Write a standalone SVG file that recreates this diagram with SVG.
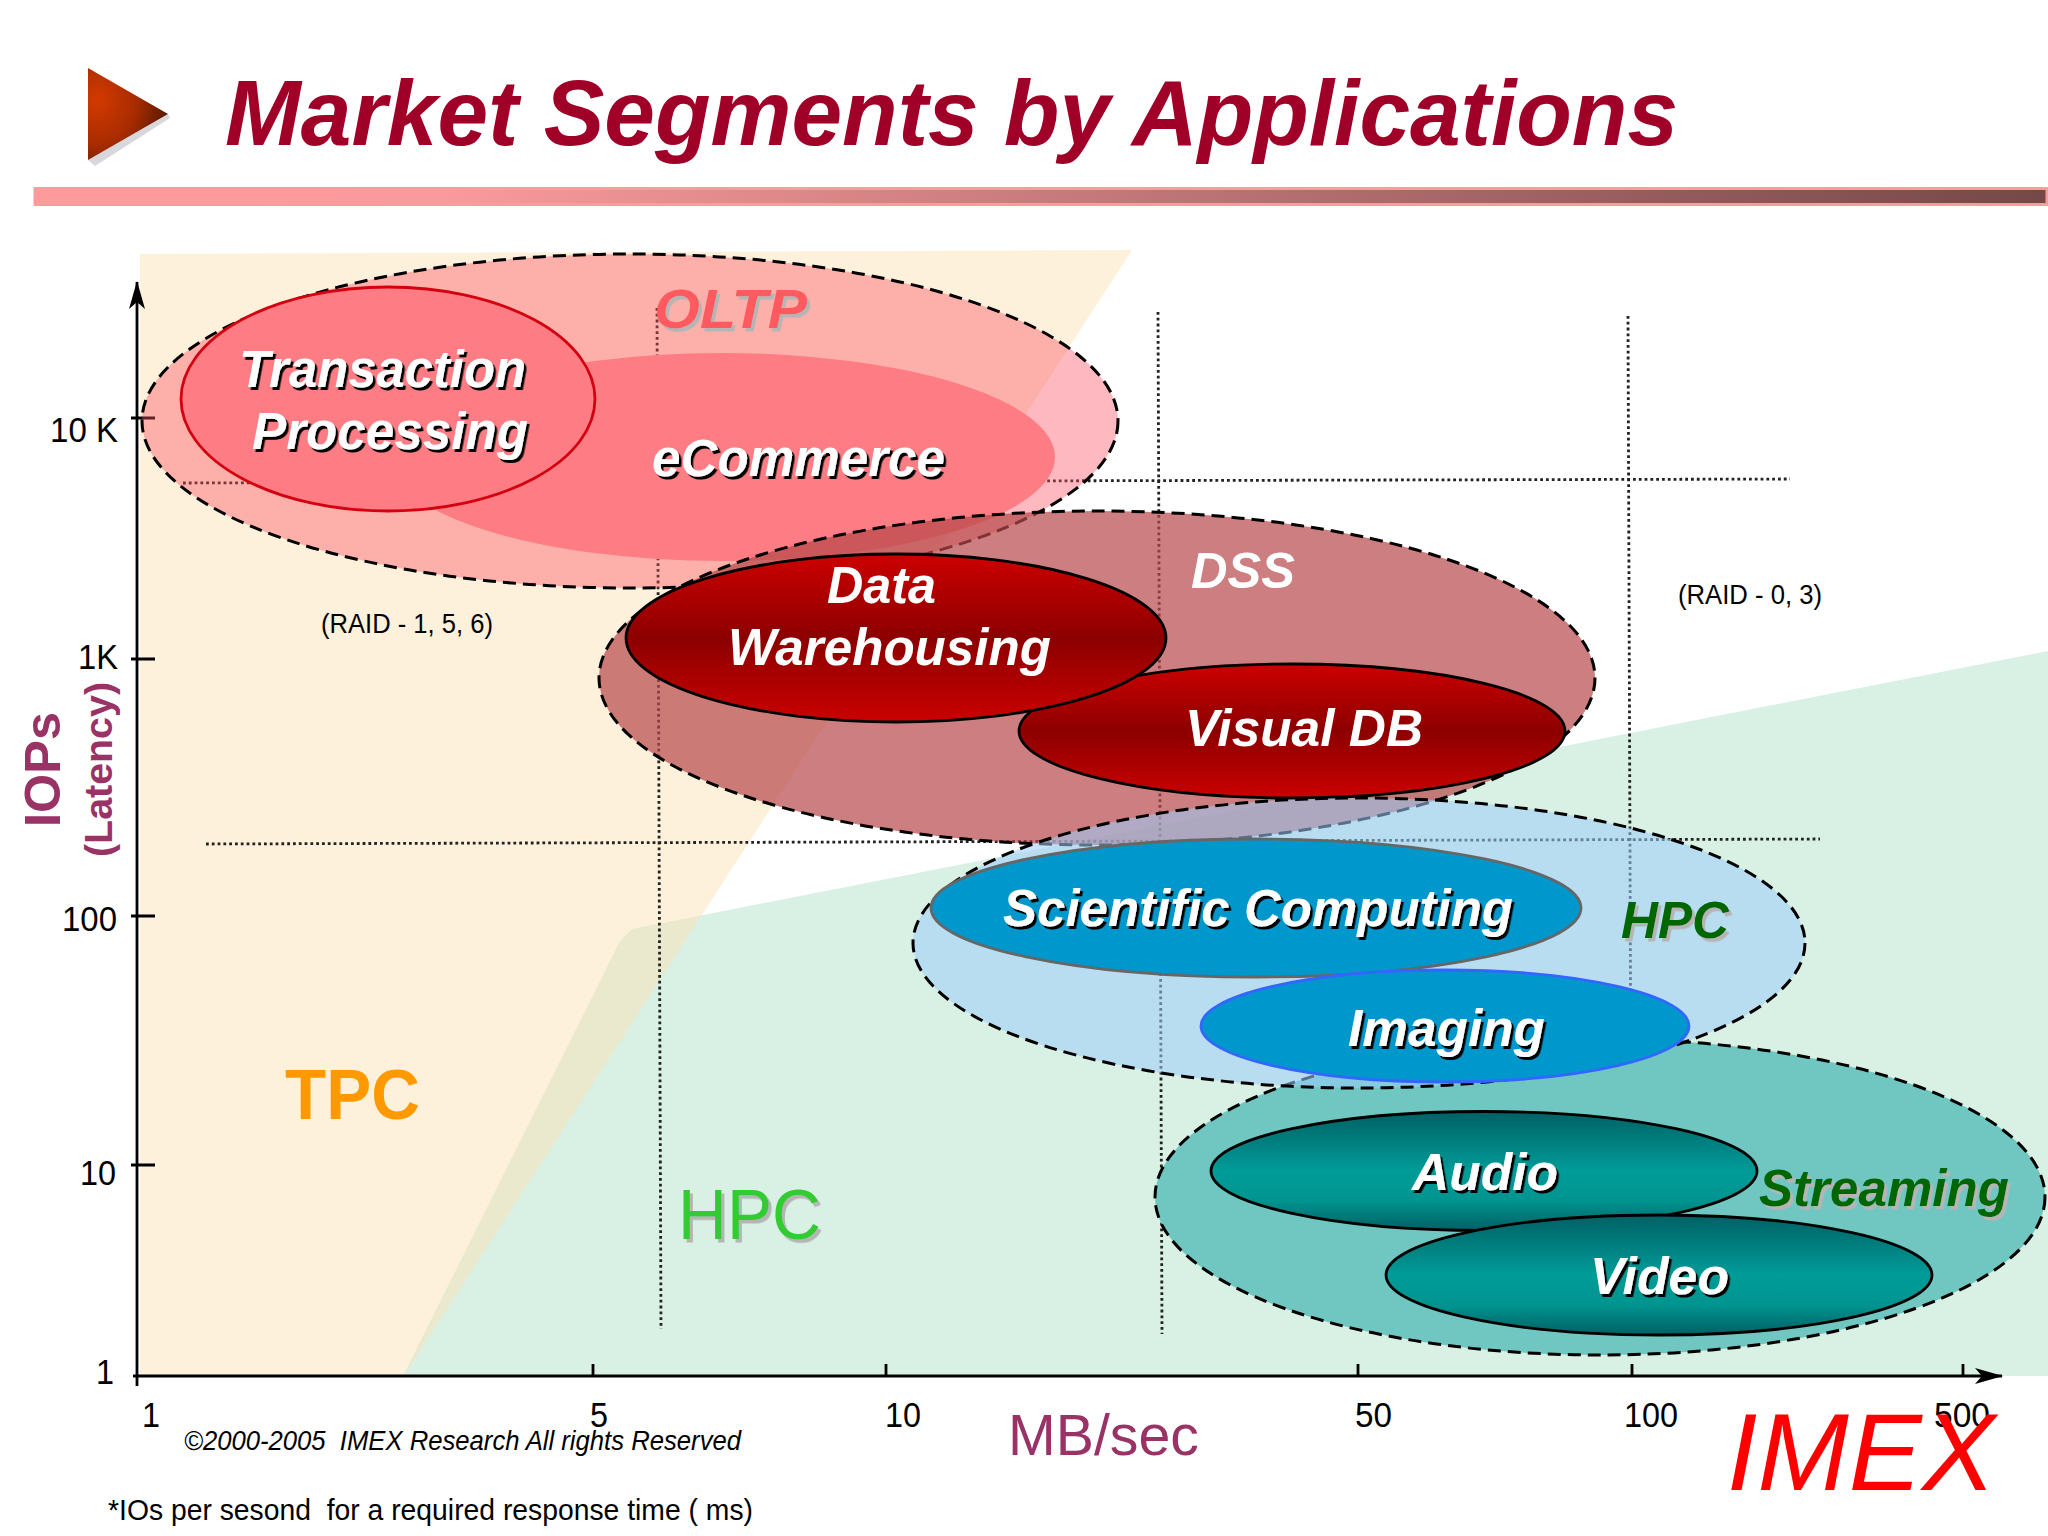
<svg xmlns="http://www.w3.org/2000/svg" width="2048" height="1536" viewBox="0 0 2048 1536">
<style>
text{font-family:"Liberation Sans",Arial,sans-serif;white-space:pre}
.lab{font-weight:bold;font-style:italic;fill:#fff}
.dk{filter:url(#sd)}
.lt{filter:url(#sl)}
.tick{font-size:35px;fill:#000}
.sm{font-size:27px;fill:#000}
.dash{stroke:#000;stroke-width:3;stroke-dasharray:13 7}
.dot{stroke:#222;stroke-width:2.8;stroke-dasharray:2.8 3;fill:none}
.ax{stroke:#000;stroke-width:2.8;fill:none}
.blk{stroke:#000;stroke-width:2.8}
</style>
<defs>
<filter id="sd" x="-10%" y="-20%" width="120%" height="140%"><feDropShadow dx="2.5" dy="3" stdDeviation="0.4" flood-color="#000"/></filter>
<filter id="sl" x="-10%" y="-20%" width="120%" height="140%"><feDropShadow dx="3" dy="3.5" stdDeviation="0.5" flood-color="#b5b5b5"/></filter>
<linearGradient id="red" x1="0" y1="0" x2="0" y2="1"><stop offset="0" stop-color="#cc0000"/><stop offset=".5" stop-color="#8c0000"/><stop offset="1" stop-color="#cc0000"/></linearGradient>
<linearGradient id="teal" x1="0" y1="0" x2="0" y2="1"><stop offset="0" stop-color="#006064"/><stop offset=".5" stop-color="#009c98"/><stop offset=".75" stop-color="#009490"/><stop offset="1" stop-color="#006064"/></linearGradient>
<linearGradient id="bar" x1="0" y1="0" x2="1" y2="0"><stop offset="0" stop-color="#fd9a9c"/><stop offset=".2" stop-color="#fb9a9c"/><stop offset="1" stop-color="#754848"/></linearGradient>
<radialGradient id="tri" cx=".12" cy=".35" r=".95"><stop offset="0" stop-color="#d23a00"/><stop offset=".5" stop-color="#a82c00"/><stop offset="1" stop-color="#4e1500"/></radialGradient>
<marker id="arr" viewBox="0 0 28 16" refX="27" refY="8" markerWidth="28" markerHeight="16" markerUnits="userSpaceOnUse" orient="auto"><path d="M0 0L28 8L0 16L7 8Z" fill="#000"/></marker>
</defs>
<rect width="2048" height="1536" fill="#fff"/>
<g id="header">
<polygon points="88,160 95,166 170,118 168,114" fill="#d8d8dc"/>
<polygon points="88,68 168,114 88,160" fill="url(#tri)"/>
<text x="225" y="145" font-size="92" font-weight="bold" font-style="italic" fill="#a00028" textLength="1453" lengthAdjust="spacingAndGlyphs">Market Segments by Applications</text>
<rect x="35" y="188.500" width="2012" height="16" fill="url(#bar)" stroke="#fd9a9c" stroke-width="3"/>
</g>
<g id="regions">
<polygon id="hpc-region" points="632,929 2048,651 2048,1376 403,1376 620,941" fill="#d9f0e4"/>
<polygon id="tpc-region" points="140,254 1132,250 403,1377 140,1377" fill="#fde1b3" fill-opacity=".47"/>
</g>
<g id="connectors">
<path class="dot" d="M657 308L661 1329"/>
<path class="dot" d="M1158 312L1162 1334"/>
<path class="dot" d="M1628 316L1631 1121"/>
<path class="dot" d="M183 483L1790 479"/>
<path class="dot" d="M206 844L1820 839"/>
<path class="ax" d="M137 1386V282" marker-end="url(#arr)"/>
<path class="ax" d="M133 1376H2002" marker-end="url(#arr)"/>
<path class="ax" d="M131 418H155M131 659H155M131 916H155M131 1165H155"/>
<path class="ax" d="M593 1364V1376M886 1364V1376M1358 1364V1376M1632 1364V1376M1963 1364V1376"/>
</g>
<g id="oltp">
<ellipse cx="630" cy="421" rx="488" ry="167" fill="#fa505f" fill-opacity=".4" class="dash"/>
<text x="654" y="328" font-size="55" font-weight="bold" font-style="italic" fill="#ff5a5f" class="lt" textLength="153" lengthAdjust="spacingAndGlyphs">OLTP</text>
</g>
<g id="ecommerce">
<ellipse cx="722" cy="457" rx="333" ry="104" fill="#fe7d84"/>
<text x="652" y="476" font-size="51" class="lab dk" textLength="293" lengthAdjust="spacingAndGlyphs">eCommerce</text>
</g>
<g id="transaction-processing">
<ellipse cx="388" cy="399" rx="207" ry="112" fill="#fe7d84" stroke="#d4000f" stroke-width="2.8"/>
<text x="239" y="387" font-size="51" class="lab dk" textLength="287" lengthAdjust="spacingAndGlyphs">Transaction</text>
<text x="252" y="449" font-size="51" class="lab dk" textLength="276" lengthAdjust="spacingAndGlyphs">Processing</text>
</g>
<g id="dss">
<ellipse cx="1097" cy="678" rx="498" ry="167" fill="#b7474a" fill-opacity=".7" class="dash"/>
<text x="1191" y="588" font-size="50" class="lab" textLength="104" lengthAdjust="spacingAndGlyphs">DSS</text>
</g>
<g id="visual-db">
<ellipse cx="1292" cy="731" rx="273" ry="67" fill="url(#red)" class="blk"/>
<text x="1185" y="746" font-size="52" class="lab" textLength="238" lengthAdjust="spacingAndGlyphs">Visual DB</text>
</g>
<g id="data-warehousing">
<ellipse cx="896" cy="638" rx="270" ry="84" fill="url(#red)" class="blk"/>
<text x="827" y="603" font-size="52" class="lab" textLength="109" lengthAdjust="spacingAndGlyphs">Data</text>
<text x="728" y="665" font-size="52" class="lab" textLength="323" lengthAdjust="spacingAndGlyphs">Warehousing</text>
</g>
<g id="streaming">
<ellipse cx="1600" cy="1197" rx="445" ry="158" fill="#70c6c0" class="dash"/>
</g>
<g id="hpc">
<ellipse cx="1359" cy="943" rx="446" ry="145" fill="#9dcdfc" fill-opacity=".55" class="dash"/>
<text x="1621" y="938" font-size="52" font-weight="bold" font-style="italic" fill="#006600" class="lt" textLength="108" lengthAdjust="spacingAndGlyphs">HPC</text>
</g>
<g id="scientific-computing">
<ellipse cx="1256" cy="908" rx="325" ry="69" fill="#0098cc" stroke="#666" stroke-width="2.8"/>
<text x="1003" y="926" font-size="52" class="lab dk" textLength="510" lengthAdjust="spacingAndGlyphs">Scientific Computing</text>
</g>
<g id="imaging">
<ellipse cx="1445" cy="1026" rx="244" ry="56" fill="#0098cc" stroke="#3366ff" stroke-width="2.8"/>
<text x="1348" y="1046" font-size="52" class="lab dk" textLength="197" lengthAdjust="spacingAndGlyphs">Imaging</text>
</g>
<g id="audio">
<ellipse cx="1484" cy="1171" rx="273" ry="59.500" fill="url(#teal)" class="blk"/>
<text x="1412" y="1190" font-size="52" class="lab dk" textLength="146" lengthAdjust="spacingAndGlyphs">Audio</text>
</g>
<g id="video">
<ellipse cx="1659" cy="1275" rx="273" ry="60" fill="url(#teal)" class="blk"/>
<text x="1590" y="1294" font-size="52" class="lab dk" textLength="139" lengthAdjust="spacingAndGlyphs">Video</text>
</g>
<text id="streaming-label" x="1759" y="1206" font-size="52" font-weight="bold" font-style="italic" fill="#006600" class="lt" textLength="250" lengthAdjust="spacingAndGlyphs">Streaming</text>
<g id="labels">
<text class="tick" x="50" y="442" textLength="68" lengthAdjust="spacingAndGlyphs">10 K</text>
<text class="tick" x="78" y="669" textLength="40" lengthAdjust="spacingAndGlyphs">1K</text>
<text class="tick" x="62" y="931" textLength="55" lengthAdjust="spacingAndGlyphs">100</text>
<text class="tick" x="80" y="1185" textLength="36" lengthAdjust="spacingAndGlyphs">10</text>
<text class="tick" x="96" y="1384" textLength="18" lengthAdjust="spacingAndGlyphs">1</text>
<text class="tick" x="142" y="1427" textLength="18" lengthAdjust="spacingAndGlyphs">1</text>
<text class="tick" x="590" y="1427" textLength="18" lengthAdjust="spacingAndGlyphs">5</text>
<text class="tick" x="885" y="1427" textLength="36" lengthAdjust="spacingAndGlyphs">10</text>
<text class="tick" x="1355" y="1427" textLength="37" lengthAdjust="spacingAndGlyphs">50</text>
<text class="tick" x="1624" y="1427" textLength="54" lengthAdjust="spacingAndGlyphs">100</text>
<text class="tick" x="1934" y="1427" textLength="56" lengthAdjust="spacingAndGlyphs">500</text>
<text class="sm" x="321" y="633" textLength="172" lengthAdjust="spacingAndGlyphs">(RAID - 1, 5, 6)</text>
<text class="sm" x="1678" y="604" textLength="144" lengthAdjust="spacingAndGlyphs">(RAID - 0, 3)</text>
<text x="285" y="1119" font-size="70" font-weight="bold" fill="#ff9900" textLength="135" lengthAdjust="spacingAndGlyphs">TPC</text>
<text x="678" y="1239" font-size="70" fill="#33cc33" class="lt" textLength="143" lengthAdjust="spacingAndGlyphs">HPC</text>
<text transform="translate(60,827) rotate(-90)" font-size="50" font-weight="bold" fill="#993366" textLength="115" lengthAdjust="spacingAndGlyphs">IOPs</text>
<text transform="translate(112,857) rotate(-90)" font-size="38" font-weight="bold" fill="#993366" textLength="175" lengthAdjust="spacingAndGlyphs">(Latency)</text>
<text x="1008" y="1455" font-size="58" fill="#993366" textLength="191" lengthAdjust="spacingAndGlyphs">MB/sec</text>
<text x="1727" y="1490" font-size="110" font-style="italic" fill="#ff0000" textLength="268" lengthAdjust="spacingAndGlyphs">IMEX</text>
<text x="184" y="1450" font-size="27" font-style="italic" fill="#000" textLength="557" lengthAdjust="spacingAndGlyphs">©2000-2005  IMEX Research All rights Reserved</text>
<text x="108" y="1520" font-size="29" fill="#000" textLength="645" lengthAdjust="spacingAndGlyphs">*IOs per sesond  for a required response time ( ms)</text>
</g>
</svg>
